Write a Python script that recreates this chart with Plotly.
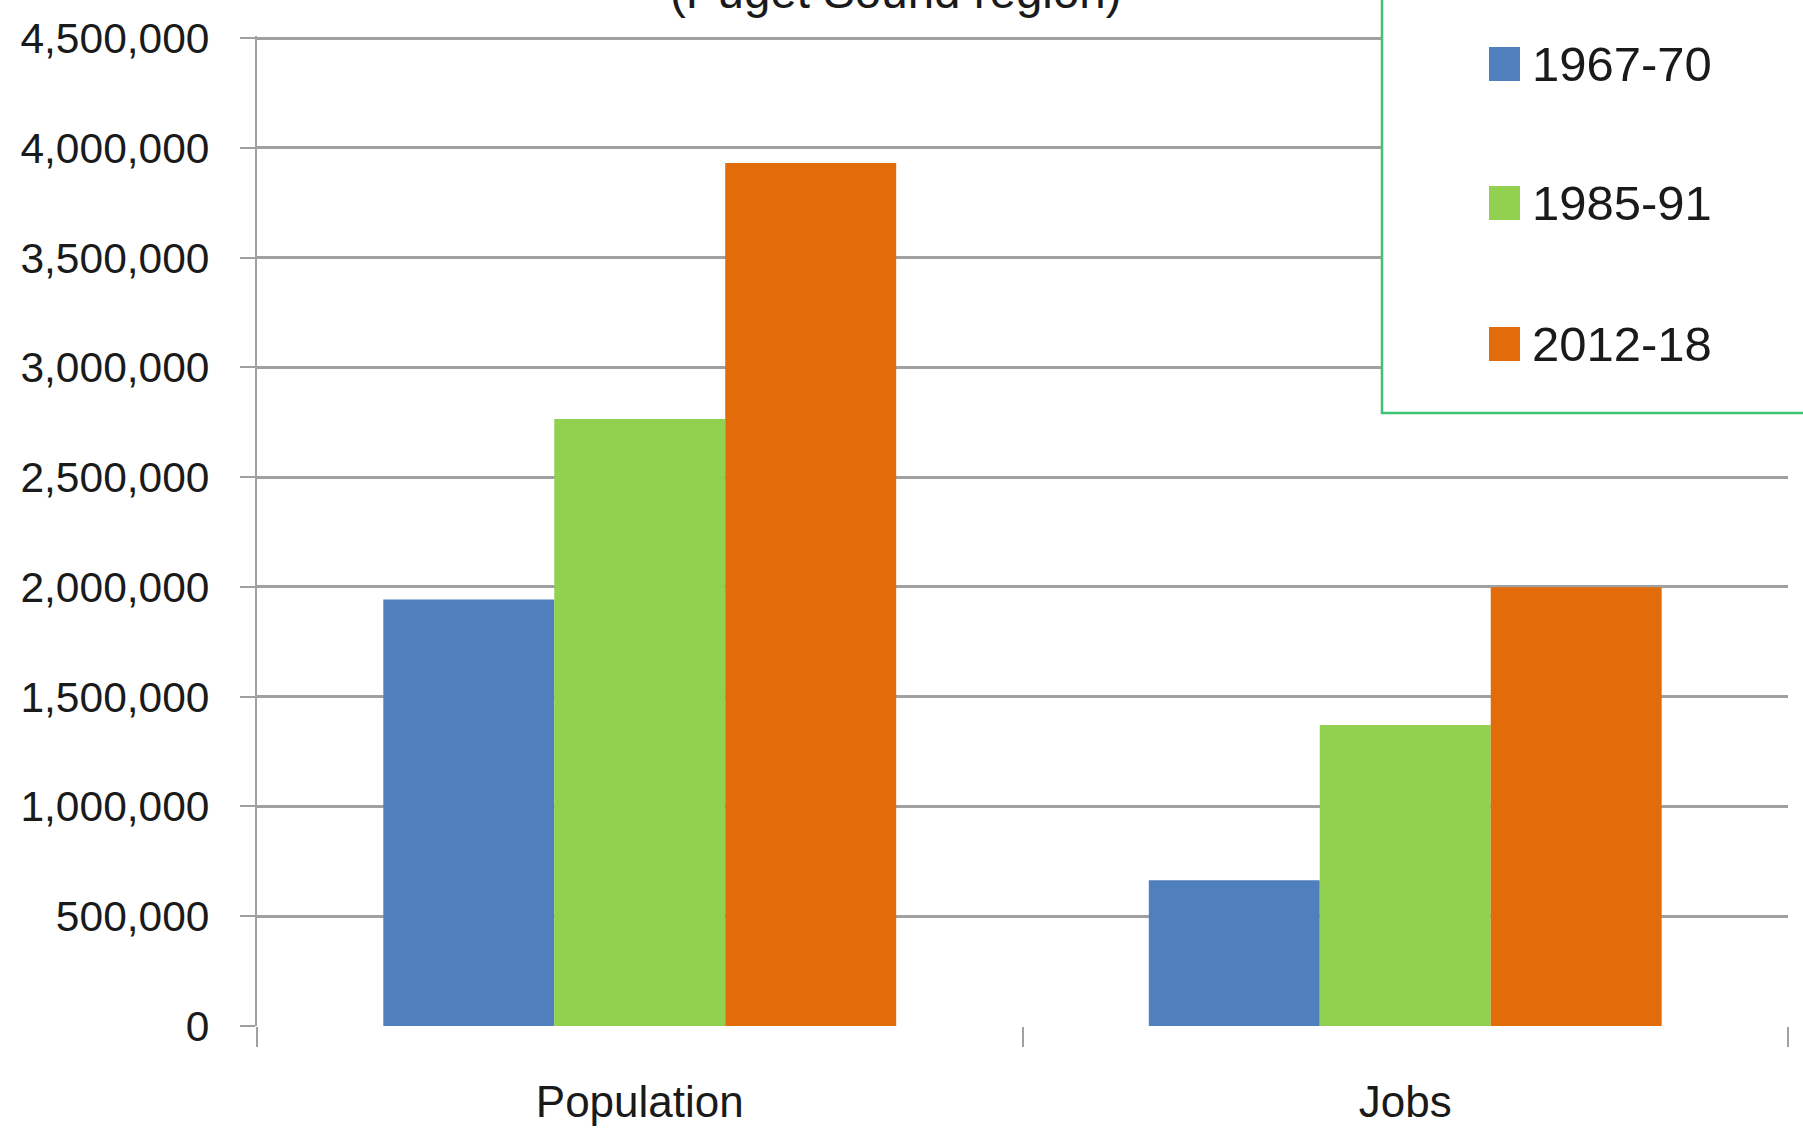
import plotly.graph_objects as go

categories = ["Population", "Jobs"]
series_names = ["1967-70", "1985-91", "2012-18"]
values_1967_70 = [1943000, 664000]
values_1985_91 = [2765000, 1371000]
values_2012_18 = [3932000, 1999000]
series_values = [values_1967_70, values_1985_91, values_2012_18]
series_colors = ["#4f7fbc", "#92d050", "#e36c0a"]
title_text = "(Puget Sound region)"
y_max = 4510000

W, H = 1803, 1128
L, R, T, B = 257, 15, 36, 102
PW, PH = W - L - R, H - T - B


def px_x(x):
    return (x - L) / PW


def px_y(y):
    return (H - B - y) / PH


fig = go.Figure()
for name, vals, col in zip(series_names, series_values, series_colors):
    fig.add_trace(go.Bar(x=categories, y=vals, name=name, marker_color=col,
                         marker_line_width=0, showlegend=False))

axis_gray = "#a0a0a0"
fig.update_layout(
    width=W, height=H, autosize=False,
    margin=dict(l=L, r=R, t=T, b=B, pad=0),
    paper_bgcolor="white", plot_bgcolor="white",
    barmode="group", bargap=0.33, bargroupgap=0,
    font=dict(family="Liberation Sans, Arial, sans-serif", color="#1a1a1a"),
    xaxis=dict(
        type="category", tickson="boundaries", ticks="outside", ticklen=20,
        tickwidth=2, tickcolor=axis_gray, showline=False, showgrid=False,
        tickfont=dict(size=44), automargin=False,
        ticklabelstandoff=46,
    ),
    yaxis=dict(
        range=[0, y_max], dtick=500000, tick0=0, tickformat=",d",
        showgrid=True, gridcolor=axis_gray, gridwidth=3,
        showline=True, linecolor=axis_gray, linewidth=2,
        ticks="outside", ticklen=15, tickwidth=2, tickcolor=axis_gray,
        zeroline=False, tickfont=dict(size=42.5), automargin=False,
        ticklabelstandoff=22,
    ),
)

# title (cut off at the top, as in the reference)
fig.add_annotation(text=title_text, xref="paper", yref="paper",
                   x=px_x(896), y=px_y(20), xanchor="center", yanchor="bottom",
                   showarrow=False, font=dict(size=47.5))

# legend box
fig.add_shape(type="rect", xref="paper", yref="paper",
              x0=px_x(1382), x1=px_x(1830), y0=px_y(413), y1=px_y(-20),
              line=dict(color="#3cc374", width=2.5), fillcolor="white", layer="above")

legend_centers = [64, 203, 344]
for name, col, cy in zip(series_names, series_colors, legend_centers):
    fig.add_shape(type="rect", xref="paper", yref="paper",
                  x0=px_x(1489), x1=px_x(1520), y0=px_y(cy + 17), y1=px_y(cy - 17),
                  line=dict(width=0), fillcolor=col, layer="above")
    fig.add_annotation(text=name, xref="paper", yref="paper",
                       x=px_x(1530), y=px_y(cy), xanchor="left", yanchor="middle",
                       showarrow=False, font=dict(size=49))

fig.write_html("out.html")
